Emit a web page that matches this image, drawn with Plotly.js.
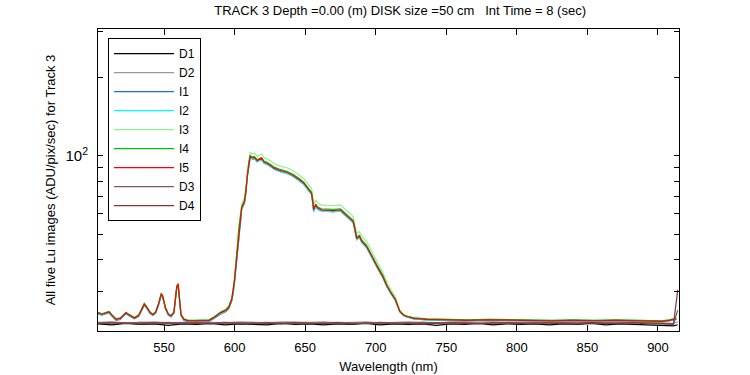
<!DOCTYPE html>
<html>
<head>
<meta charset="utf-8">
<script src="https://cdn.plot.ly/plotly-3.0.1.min.js"></script>
<style>html,body{margin:0;padding:0;background:#fff;}#chart{width:750px;height:375px;}</style>
</head>
<body>
<div id="chart"></div>
<script>
// Wavelength grid (nm) for the light (I) series
const wl = [
  503,506,508,511,513,516,519,521,523,526,
  529,532,534,536,538,540,542,544,546,548,
  549,551,553,555,557,559,560,561,562,564,
  567,572,577,582,586,590,594,596,598,599,
  600,601,602,603,605,607,608,609,610,611,
  613,614,616,617,619,621,623,626,628,632,
  637,641,644,646,649,651,653,654.5,655.5,656,
  657.5,659,661.5,665,670,675,679,682,684,685,
  686.5,688.5,690,693.5,696,698,701,705,708,711,
  714,717,720,722,727,736,750,765,780,795,
  810,825,840,855,870,885,895,903,908,913
];
const I1 = [
  24.7,24.4,24.6,24.9,24.2,23.3,23.5,24.1,24.7,24.1,
  23.6,24.1,25.4,26.6,25.8,24.8,24.3,24.8,26.5,29.0,
  28.6,25.8,24.4,24.0,24.8,31.0,31.7,27.5,24.3,23.3,
  23.0,23.0,23.0,23.1,23.8,24.6,25.2,25.9,27.7,29.6,
  32.9,37.5,42.5,51.3,62.2,65.9,72.2,83.1,92.0,98.3,
  97.1,97.8,95.0,95.6,97.1,93.6,92.8,90.6,88.8,87.2,
  85.7,83.7,81.7,80.1,77.7,75.4,73.2,71.1,65.2,61.2,
  64.1,62.3,61.4,61.2,61.0,61.4,58.8,57.0,55.4,52.5,
  47.7,48.5,46.6,44.4,41.7,40.1,37.2,34.1,31.3,29.4,
  27.8,25.2,24.3,24.0,23.6,23.4,23.3,23.2,23.3,23.2,
  23.2,23.1,23.2,23.1,23.2,23.1,23.1,23.0,23.2,23.5
];
const I2 = [
  24.8,24.5,24.7,25.0,24.3,23.4,23.6,24.2,24.8,24.2,
  23.7,24.2,25.5,26.7,25.9,24.9,24.4,24.9,26.6,29.2,
  28.7,25.9,24.5,24.1,24.9,31.2,31.9,27.7,24.4,23.4,
  23.1,23.1,23.1,23.2,23.9,24.7,25.3,26.0,27.8,29.7,
  33.0,37.6,42.6,51.4,62.3,66.0,72.3,83.2,92.1,98.4,
  97.0,97.7,94.9,95.5,97.0,93.5,92.7,90.5,88.7,87.1,
  85.6,83.6,81.6,80.0,77.6,75.3,73.1,71.0,64.9,60.9,
  64.0,62.2,61.3,61.1,60.9,61.3,58.7,56.9,55.3,52.4,
  47.6,48.4,46.5,44.3,41.6,40.0,37.1,34.0,31.2,29.3,
  27.7,25.1,24.2,24.0,23.6,23.4,23.3,23.2,23.3,23.2,
  23.2,23.1,23.2,23.1,23.2,23.1,23.1,23.0,23.2,23.5
];
const I3 = [
  24.9,24.7,24.8,25.2,24.5,23.6,23.7,24.4,25.0,24.4,
  23.9,24.4,25.8,27.2,26.2,25.1,24.6,25.2,27.0,29.8,
  29.2,26.2,24.7,24.3,25.1,31.6,32.4,28.2,24.6,23.6,
  23.3,23.3,23.3,23.4,24.2,25.1,25.8,26.6,28.6,30.8,
  34.4,39.4,44.5,53.8,65.2,69.1,75.6,87.0,96.3,103.0,
  101.6,102.5,99.5,100.2,101.7,98.2,97.4,95.1,93.2,91.5,
  90.0,88.0,86.0,84.3,81.8,79.4,77.1,74.9,69.0,65.0,
  67.5,65.8,64.6,64.4,64.3,64.8,62.0,60.0,58.4,55.3,
  50.3,51.1,49.1,46.8,43.9,42.2,39.1,35.7,32.6,30.4,
  28.6,25.6,24.5,24.2,23.8,23.6,23.5,23.4,23.5,23.4,
  23.4,23.3,23.4,23.3,23.4,23.3,23.3,23.2,23.4,23.7
];
const I4 = [
  25.0,24.7,24.9,25.2,24.5,23.6,23.8,24.4,25.0,24.4,
  23.9,24.4,25.7,27.0,26.1,25.1,24.6,25.1,26.9,29.3,
  28.8,26.1,24.7,24.3,25.1,31.0,31.8,27.6,24.6,23.6,
  23.3,23.3,23.3,23.4,24.1,25.0,25.6,26.4,28.3,30.3,
  33.8,38.5,43.6,52.5,63.5,67.4,74.0,85.0,94.0,100.2,
  98.9,99.5,96.8,97.3,98.6,95.3,94.5,92.3,90.5,88.8,
  87.2,85.2,83.2,81.6,79.2,76.9,74.7,72.5,66.8,62.6,
  65.3,63.6,62.6,62.4,62.3,62.6,60.0,58.1,56.5,53.6,
  48.8,49.5,47.6,45.3,42.5,40.9,37.9,34.7,31.8,29.7,
  28.1,25.3,24.4,24.2,23.8,23.6,23.5,23.4,23.5,23.4,
  23.4,23.3,23.4,23.3,23.4,23.3,23.3,23.2,23.4,23.7
];
const I5 = [
  24.9,24.6,24.8,25.1,24.4,23.5,23.7,24.3,24.9,24.3,
  23.8,24.3,25.6,26.9,26.0,25.0,24.5,25.0,26.8,29.5,
  29.0,26.0,24.6,24.2,25.0,31.5,32.2,28.0,24.5,23.5,
  23.2,23.2,23.2,23.3,24.0,24.9,25.5,26.2,28.0,30.0,
  33.3,38.0,43.0,51.9,62.9,66.7,73.0,84.0,93.0,99.4,
  98.0,98.8,95.9,96.5,98.0,94.5,93.7,91.5,89.7,88.0,
  86.5,84.5,82.5,80.9,78.5,76.2,74.0,71.9,66.0,62.0,
  64.8,63.0,62.0,61.8,61.6,62.0,59.3,57.5,55.9,53.0,
  48.2,49.0,47.0,44.8,42.0,40.4,37.5,34.3,31.5,29.5,
  27.9,25.2,24.3,24.1,23.7,23.5,23.4,23.3,23.4,23.3,
  23.3,23.2,23.3,23.2,23.3,23.2,23.2,23.1,23.3,23.6
];

// Wavelength grid (nm) for the dark (D) series
const wlD = [
  503,513,523,533,543,553,563,573,583,593,
  603,613,623,633,643,653,663,673,683,693,
  703,713,723,733,743,753,763,773,783,793,
  803,813,823,833,843,853,863,873,883,893,
  903,911,914
];
const D1 = [
  22.6,22.4,22.7,22.5,22.6,22.3,22.6,22.5,22.7,22.4,
  22.6,22.5,22.4,22.7,22.5,22.6,22.4,22.6,22.5,22.7,
  22.4,22.6,22.5,22.6,22.3,22.6,22.5,22.7,22.4,22.6,
  22.5,22.6,22.4,22.6,22.5,22.7,22.4,22.6,22.5,22.4,
  22.3,22.2,22.4
];
const D2 = [
  22.9,23.0,22.8,22.9,23.0,22.8,22.9,23.0,22.9,22.8,
  23.0,22.9,22.8,23.0,22.9,22.9,23.0,22.8,22.9,23.0,
  22.8,22.9,23.0,22.9,22.8,23.0,22.9,22.9,23.0,22.8,
  22.9,23.0,22.9,22.8,23.0,22.9,22.9,22.8,23.0,22.9,
  22.8,22.7,23.0
];
const D3 = [
  22.8,22.9,22.7,22.9,22.8,22.9,22.7,22.9,22.8,22.9,
  22.8,22.7,22.9,22.8,22.9,22.7,22.8,22.9,22.8,22.7,
  22.9,22.8,22.7,22.9,22.8,22.8,22.9,22.7,22.8,22.9,
  22.8,22.7,22.9,22.8,22.8,22.9,22.7,22.8,22.9,22.8,
  22.7,22.6,25.5
];
const D4 = [
  22.7,22.8,22.8,22.6,22.8,22.7,22.8,22.7,22.6,22.8,
  22.7,22.8,22.7,22.6,22.8,22.7,22.7,22.8,22.6,22.8,
  22.7,22.7,22.8,22.6,22.7,22.8,22.7,22.6,22.8,22.7,
  22.7,22.8,22.7,22.7,22.6,22.8,22.7,22.7,22.8,22.6,
  22.6,22.5,30.5
];

const names  = ['D1','D2','I1','I2','I3','I4','I5','D3','D4'];
const colors = ['#000000','#999999','#1f6fd6','#00ffff','#8cf58c','#00c000','#ff0000','#7f5a5a','#803838'];
const xs = [wlD, wlD, wl, wl, wl, wl, wl, wlD, wlD];
const ys = [D1, D2, I1, I2, I3, I4, I5, D3, D4];

const yTickVals = [30,40,50,60,70,80,90,100,200,300];
const yTickText = ['','','','','','','','10<sup>2</sup>','',''];
const xTickVals = [550,600,650,700,750,800,850,900];

const traces = names.map((n, i) => ({
  x: xs[i], y: ys[i], name: n, type: 'scatter', mode: 'lines',
  line: {color: colors[i], width: 1.2}
}));

const layout = {
  width: 750, height: 375,
  margin: {l: 98, r: 71, t: 29, b: 44, pad: 0},
  paper_bgcolor: '#ffffff', plot_bgcolor: '#ffffff',
  font: {family: 'Liberation Sans, Arial, sans-serif', size: 12, color: '#000'},
  title: {text: 'TRACK 3 Depth =0.00 (m) DISK size =50 cm\u00a0\u00a0\u00a0Int Time = 8 (sec)',
          x: 0.52, xref: 'paper', y: 1, yref: 'container', yanchor: 'top', pad: {t: 6},
          font: {size: 13, color: '#000'}},
  xaxis: {
    range: [503.2, 914.9], tickvals: xTickVals, ticks: 'inside', ticklen: 6,
    tickcolor: '#000', showline: true, linecolor: '#000', linewidth: 1, mirror: 'ticks',
    showgrid: false, zeroline: false, ticklabelstandoff: 4,
    tickfont: {size: 13},
    title: {text: 'Wavelength (nm)', standoff: 8, font: {size: 13}}
  },
  yaxis: {
    type: 'log', range: [Math.log10(21.2), Math.log10(307.7)],
    tickvals: yTickVals, ticktext: yTickText, ticks: 'inside', ticklen: 5,
    tickcolor: '#000', showline: true, linecolor: '#000', linewidth: 1, mirror: 'ticks',
    showgrid: false, zeroline: false, ticklabelstandoff: 6,
    tickfont: {size: 15},
    title: {text: 'All five Lu images (ADU/pix/sec) for Track 3', standoff: 6, font: {size: 13}}
  },
  showlegend: true,
  legend: {
    x: 0.0172, y: 0.97, xanchor: 'left', yanchor: 'top',
    bgcolor: '#ffffff', bordercolor: '#000', borderwidth: 1,
    font: {size: 12, color: '#000'}, tracegroupgap: 0, itemwidth: 60
  }
};

Plotly.newPlot('chart', traces, layout, {staticPlot: true, displayModeBar: false});
</script>
</body>
</html>
